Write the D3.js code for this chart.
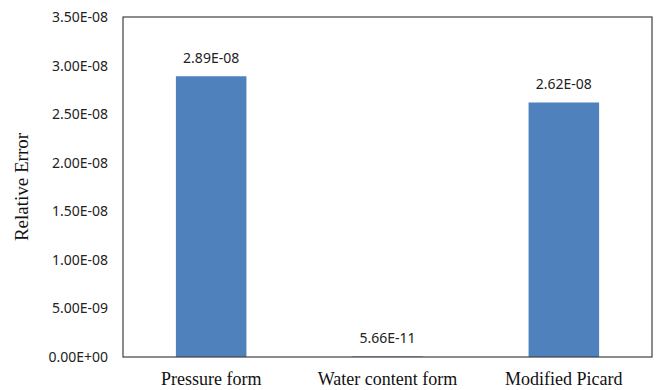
<!DOCTYPE html>
<html>
<head>
<meta charset="utf-8">
<script src="https://cdn.jsdelivr.net/npm/d3@7"></script>
<style>
  body { margin: 0; background: #fff; }
  svg { display: block; }
</style>
</head>
<body>
<div id="container"></div>
<script>
/* DATA */
const categories = ["Pressure form", "Water content form", "Modified Picard"];
const errorValues = [2.89e-8, 5.66e-11, 2.62e-8];
const valueLabels = ["2.89E-08", "5.66E-11", "2.62E-08"];
const tickValues = [0, 5e-9, 1e-8, 1.5e-8, 2e-8, 2.5e-8, 3e-8, 3.5e-8];
const tickLabels = ["0.00E+00", "5.00E-09", "1.00E-08", "1.50E-08", "2.00E-08", "2.50E-08", "3.00E-08", "3.50E-08"];

/* CONSTANTS */
const width = 656,
  height = 390,
  margin = { top: 17, bottom: 33, left: 123, right: 4 };

const svg = d3.select("#container")
  .append("svg")
  .attr("width", width)
  .attr("height", height);

// scales
const xScale = d3.scaleBand()
  .domain(categories)
  .range([margin.left, width - margin.right])
  .paddingInner(0.6)
  .paddingOuter(0.3);

const yScale = d3.scaleLinear()
  .domain([0, 3.5e-8])
  .range([height - margin.bottom, margin.top]);

// bars
svg.selectAll("rect.bar")
  .data(errorValues)
  .join("rect")
  .attr("class", "bar")
  .attr("x", (d, i) => xScale(categories[i]))
  .attr("width", xScale.bandwidth())
  .attr("y", d => yScale(d))
  .attr("height", d => yScale(0) - yScale(d))
  .attr("fill", "#4F81BD");

// value labels
svg.selectAll("text.value")
  .data(errorValues)
  .join("text")
  .attr("class", "value")
  .attr("x", (d, i) => xScale(categories[i]) + xScale.bandwidth() / 2)
  .attr("y", d => yScale(d) - 13)
  .attr("text-anchor", "middle")
  .style("font-family", "'Noto Sans', sans-serif")
  .style("font-size", "14px")
  .style("fill", "#222")
  .text((d, i) => valueLabels[i]);

// y axis
const yAxis = d3.axisLeft(yScale)
  .tickValues(tickValues)
  .tickFormat((d, i) => tickLabels[i])
  .tickSize(0)
  .tickPadding(15);

svg.append("g")
  .attr("transform", `translate(${margin.left},0)`)
  .call(yAxis)
  .call(g => g.select(".domain").remove())
  .selectAll("text")
  .style("font-family", "'Noto Sans', sans-serif")
  .style("font-size", "14px")
  .style("fill", "#222");

// x axis
const xAxis = d3.axisBottom(xScale).tickSize(0).tickPadding(15);

svg.append("g")
  .attr("transform", `translate(0,${height - margin.bottom})`)
  .call(xAxis)
  .call(g => g.select(".domain").remove())
  .selectAll("text")
  .style("font-family", "'Liberation Serif', serif")
  .style("font-size", "18px")
  .style("fill", "#111");

// frame around plot area
svg.append("rect")
  .attr("x", margin.left)
  .attr("y", margin.top)
  .attr("width", width - margin.left - margin.right)
  .attr("height", height - margin.top - margin.bottom)
  .attr("fill", "none")
  .attr("stroke", "#404040")
  .attr("stroke-width", 1.2);

// y axis title
svg.append("text")
  .attr("transform", `translate(28,${(margin.top + height - margin.bottom) / 2}) rotate(-90)`)
  .attr("text-anchor", "middle")
  .style("font-family", "'Liberation Serif', serif")
  .style("font-size", "19px")
  .style("fill", "#111")
  .text("Relative Error");
</script>
</body>
</html>
